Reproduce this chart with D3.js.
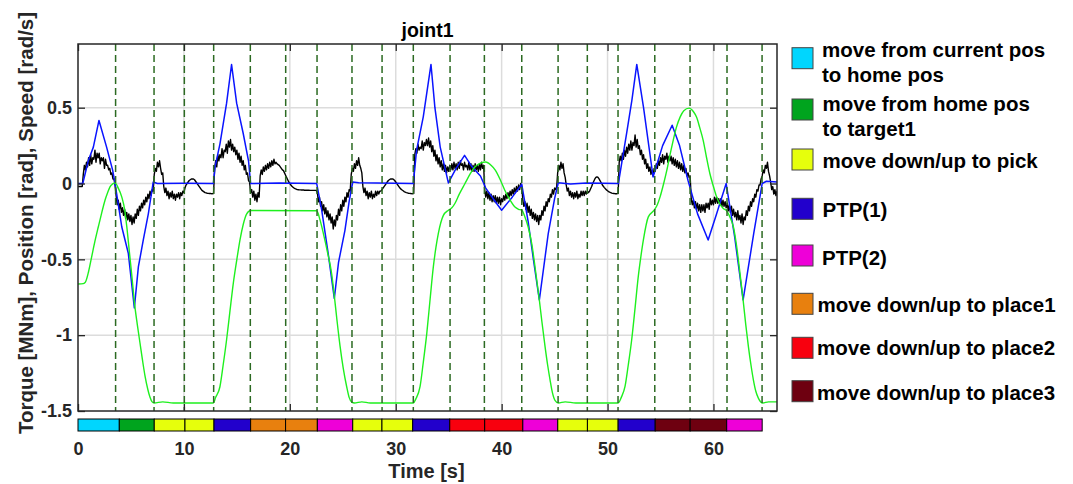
<!DOCTYPE html>
<html>
<head>
<meta charset="utf-8">
<title>joint1</title>
<script src="https://cdn.jsdelivr.net/npm/d3@7"></script>
<style>
  body { margin: 0; background: #fff; }
  svg { display: block; font-family: "Liberation Sans", Arial, Helvetica, sans-serif; font-weight: bold; }
</style>
</head>
<body>
<svg id="chart" width="1073" height="484"></svg>
<script>
// ---------------- data ----------------
const chartTitle = "joint1";
const xLabel = "Time [s]";
const yLabel = "Torque [MNm], Position [rad], Speed [rad/s]";

const xTicks = [0, 10, 20, 30, 40, 50, 60];
const yTicks = [-1.5, -1, -0.5, 0, 0.5];
const xDomain = [0, 66];
const yDomain = [-1.5, 0.92];

// torque, sampled every 0.1 s from t = 0 to t = 66 (one row per second)
const torqueStep = 0.1;
const torque = [
  -0.02,-0.02,-0.02,-0.02,-0.02,0.06,0.12,0.09,0.14,0.11,
  0.17,0.12,0.19,0.13,0.17,0.16,0.22,0.14,0.20,0.17,
  0.20,0.13,0.17,0.15,0.17,0.10,0.16,0.12,0.12,0.09,
  0.10,0.06,0.07,0.03,0.03,-0.01,-0.08,-0.14,-0.11,-0.17,
  -0.13,-0.19,-0.16,-0.21,-0.17,-0.23,-0.19,-0.24,-0.20,-0.25,
  -0.21,-0.27,-0.22,-0.26,-0.20,-0.23,-0.17,-0.21,-0.15,-0.18,
  -0.13,-0.16,-0.11,-0.14,-0.09,-0.12,-0.07,-0.10,-0.05,-0.08,
  -0.04,-0.05,0.06,0.10,0.08,0.14,0.11,0.15,0.10,0.06,
  0.07,-0.02,-0.06,-0.03,-0.08,-0.05,-0.10,-0.06,-0.09,-0.05,
  -0.10,-0.07,-0.11,-0.07,-0.09,-0.06,-0.10,-0.06,-0.08,-0.05,
  -0.06,-0.03,-0.01,0.0,0.01,0.02,0.025,0.03,0.03,0.03,
  0.025,0.015,0.005,-0.005,-0.015,-0.025,-0.035,-0.045,-0.05,-0.055,
  -0.06,-0.062,-0.064,-0.065,-0.066,-0.066,-0.067,-0.067,-0.066,0.10,
  0.15,0.11,0.19,0.15,0.19,0.17,0.23,0.17,0.22,0.21,
  0.26,0.20,0.28,0.24,0.29,0.22,0.26,0.21,0.24,0.19,
  0.22,0.16,0.20,0.14,0.18,0.12,0.15,0.09,0.12,0.06,
  0.07,0.02,0.01,-0.06,-0.04,-0.09,-0.05,-0.11,-0.07,-0.12,
  -0.06,-0.09,0.05,0.09,0.06,0.11,0.08,0.12,0.09,0.13,
  0.10,0.14,0.11,0.15,0.12,0.16,0.13,0.14,0.13,0.125,
  0.12,0.11,0.10,0.09,0.085,0.07,0.055,0.04,0.025,0.01,
  0.0,-0.01,-0.018,-0.024,-0.03,-0.034,-0.037,-0.04,-0.041,-0.042,
  -0.042,-0.043,-0.043,-0.043,-0.044,-0.044,-0.044,-0.044,-0.044,-0.045,
  -0.045,-0.045,-0.045,-0.045,-0.045,-0.045,-0.06,-0.12,-0.09,-0.15,
  -0.12,-0.18,-0.14,-0.20,-0.16,-0.22,-0.18,-0.24,-0.20,-0.26,
  -0.22,-0.30,-0.24,-0.28,-0.21,-0.24,-0.17,-0.21,-0.14,-0.18,
  -0.11,-0.15,-0.09,-0.12,-0.06,-0.09,-0.04,-0.05,0.06,0.10,
  0.08,0.13,0.10,0.15,0.12,0.17,0.12,0.10,0.07,-0.02,
  -0.06,-0.03,-0.08,-0.05,-0.10,-0.06,-0.09,-0.05,-0.10,-0.07,
  -0.09,-0.05,-0.08,-0.05,-0.07,-0.05,-0.05,-0.04,-0.03,-0.02,
  -0.01,0.0,0.01,0.02,0.025,0.03,0.03,0.03,0.027,0.02,
  0.01,0.0,-0.01,-0.02,-0.03,-0.037,-0.043,-0.048,-0.053,-0.057,
  -0.06,-0.062,-0.064,-0.065,-0.066,-0.067,-0.067,-0.066,0.19,0.23,
  0.20,0.26,0.22,0.24,0.23,0.28,0.22,0.27,0.25,0.29,
  0.25,0.30,0.24,0.28,0.21,0.25,0.18,0.22,0.15,0.19,
  0.13,0.17,0.11,0.15,0.09,0.13,0.08,0.12,0.07,0.11,
  0.08,0.12,0.09,0.13,0.09,0.14,0.10,0.13,0.09,0.14,
  0.10,0.15,0.12,0.13,0.09,0.14,0.11,0.12,0.09,0.14,
  0.09,0.13,0.08,0.12,0.08,0.13,0.09,0.12,0.08,0.13,
  0.09,0.14,0.10,0.12,-0.04,-0.09,-0.05,-0.10,-0.06,-0.11,
  -0.07,-0.12,-0.08,-0.12,-0.08,-0.13,-0.09,-0.13,-0.09,-0.14,
  -0.10,-0.12,-0.08,-0.11,-0.07,-0.10,-0.06,-0.09,-0.05,-0.08,
  -0.04,-0.07,-0.03,-0.06,-0.02,-0.05,-0.01,-0.04,0.0,-0.02,
  -0.11,-0.15,-0.12,-0.17,-0.13,-0.19,-0.15,-0.21,-0.17,-0.23,
  -0.19,-0.24,-0.20,-0.25,-0.21,-0.27,-0.21,-0.24,-0.18,-0.21,
  -0.15,-0.18,-0.12,-0.15,-0.10,-0.12,-0.07,-0.09,-0.04,-0.07,
  -0.03,-0.04,-0.02,0.08,0.12,0.09,0.14,0.10,0.13,0.07,
  0.04,-0.01,-0.05,-0.03,-0.08,-0.05,-0.09,-0.06,-0.10,-0.06,
  -0.09,-0.05,-0.10,-0.07,-0.09,-0.05,-0.08,-0.05,-0.08,-0.05,
  -0.07,-0.05,-0.06,-0.05,-0.035,-0.02,0.0,0.015,0.03,0.04,
  0.044,0.04,0.03,0.018,0.005,-0.008,-0.018,-0.027,-0.035,-0.042,
  -0.048,-0.053,-0.057,-0.06,-0.063,-0.065,-0.066,-0.067,-0.067,-0.067,
  -0.066,0.14,0.18,0.15,0.20,0.16,0.22,0.18,0.24,0.20,
  0.26,0.22,0.28,0.22,0.27,0.25,0.32,0.24,0.29,0.23,
  0.25,0.19,0.22,0.16,0.19,0.13,0.16,0.10,0.13,0.08,
  0.11,0.06,0.09,0.05,0.10,0.08,0.13,0.10,0.15,0.12,
  0.17,0.14,0.19,0.13,0.18,0.16,0.20,0.14,0.18,0.15,
  0.18,0.13,0.17,0.12,0.16,0.11,0.15,0.10,0.14,0.09,
  0.13,0.08,0.12,0.07,0.10,0.05,0.07,0.04,0.05,-0.10,
  -0.14,-0.11,-0.16,-0.12,-0.17,-0.13,-0.18,-0.14,-0.19,-0.14,
  -0.18,-0.14,-0.19,-0.13,-0.16,-0.13,-0.17,-0.10,-0.14,-0.11,
  -0.14,-0.09,-0.13,-0.09,-0.13,-0.10,-0.14,-0.10,-0.15,-0.11,
  -0.15,-0.12,-0.16,-0.13,-0.18,-0.14,-0.19,-0.15,-0.21,-0.17,
  -0.22,-0.19,-0.24,-0.18,-0.24,-0.21,-0.26,-0.20,-0.27,-0.22,
  -0.24,-0.18,-0.21,-0.15,-0.18,-0.12,-0.15,-0.10,-0.12,-0.07,
  -0.09,-0.04,-0.05,-0.01,-0.01,0.03,0.05,0.09,0.07,0.12,
  0.10,0.14,0.08,0.05,0.01,-0.04,-0.02,-0.07,-0.04,-0.08,
  -0.05
];

// joint speed [time s, rad/s]
const speed = [
  [0,0],[0.45,0],[0.97,0.15],[1.45,0.24],[1.98,0.416],[2.7,0.24],[3.27,0.088],[3.5,0],
  [4.13,-0.285],[4.75,-0.46],[5.32,-0.82],[5.7,-0.55],[6.17,-0.37],[6.64,-0.2],[7.1,0.01],
  [7.5,0.0],[10,0.002],[12.78,0],[12.94,0.11],[13.4,0.26],[14.03,0.53],[14.5,0.785],
  [14.98,0.53],[15.6,0.33],[16.1,0.15],[16.3,0],[19,0.003],[22.54,0],
  [23.0,-0.17],[23.6,-0.45],[24.2,-0.757],[24.6,-0.52],[25.2,-0.31],[25.6,-0.12],[25.94,0.01],
  [26.5,0.005],[31.66,0],[31.97,0.22],[32.6,0.44],[33.33,0.785],[33.7,0.5],[34.2,0.24],
  [34.97,0.004],[35.7,0.1],[36.5,0.186],[37.2,0.11],[38.0,0.05],[38.5,-0.03],[39.2,-0.1],
  [40.0,-0.176],[41.0,-0.09],[41.9,-0.005],[42.5,-0.25],[43.0,-0.5],[43.56,-0.768],
  [44.4,-0.33],[45.0,-0.1],[45.35,0.005],[46.5,-0.003],[48,0.003],[51.02,0],[51.8,0.33],
  [52.3,0.55],[52.76,0.785],[53.4,0.5],[54.3,0.043],[55.2,0.25],[56.1,0.384],[56.8,0.25],
  [57.6,0.02],[58.5,-0.2],[59.5,-0.373],[60.3,-0.2],[61.2,0.0],[62.0,-0.35],[62.8,-0.768],
  [63.8,-0.33],[64.6,0.0],[65.0,0.015],[66,0.01]
];

// joint position [time s, rad]
const position = [
  [0,-0.6625],[0.5,-0.66],[0.7,-0.65],[1.0,-0.58],[1.29,-0.483],[1.6,-0.38],[1.92,-0.285],
  [2.25,-0.19],[2.55,-0.11],[2.8,-0.06],[3.02,-0.022],[3.25,-0.004],[3.5,0.004],[3.8,-0.03],
  [4.13,-0.088],[4.4,-0.17],[4.6,-0.28],[4.85,-0.45],[5.1,-0.62],[5.32,-0.78],[5.6,-0.93],
  [5.85,-1.05],[6.1,-1.17],[6.33,-1.27],[6.6,-1.36],[6.8,-1.41],[7.0,-1.44],[7.18,-1.447],
  [8.0,-1.44],[9.0,-1.447],[12.78,-1.447],[13.0,-1.41],[13.4,-1.34],[13.7,-1.2],[14.03,-1.03],
  [14.35,-0.84],[14.66,-0.66],[15.0,-0.5],[15.3,-0.37],[15.6,-0.27],[15.93,-0.2],[16.3,-0.178],
  [22.54,-0.18],[22.85,-0.24],[23.17,-0.33],[23.55,-0.45],[23.96,-0.6],[24.2,-0.74],
  [24.45,-0.9],[24.74,-1.07],[25.05,-1.22],[25.37,-1.34],[25.6,-1.41],[25.84,-1.44],
  [26.1,-1.447],[26.8,-1.44],[27.6,-1.447],[31.66,-1.447],[31.9,-1.42],[32.3,-1.338],
  [32.6,-1.18],[32.93,-0.99],[33.25,-0.76],[33.55,-0.55],[33.8,-0.42],[34.02,-0.33],
  [34.5,-0.21],[34.97,-0.176],[35.3,-0.16],[35.6,-0.13],[36.0,-0.07],[36.54,0.0],[37.0,0.06],
  [37.49,0.11],[38.0,0.135],[38.5,0.142],[39.0,0.12],[39.4,0.088],[39.9,0.02],[40.3,-0.044],
  [40.8,-0.11],[41.26,-0.155],[41.6,-0.17],[41.9,-0.176],[42.2,-0.22],[42.5,-0.285],
  [42.85,-0.4],[43.15,-0.549],[43.56,-0.768],[43.8,-0.91],[44.1,-1.075],[44.35,-1.2],
  [44.57,-1.294],[44.8,-1.38],[45.04,-1.43],[45.35,-1.447],[46.0,-1.44],[47.0,-1.447],
  [51.0,-1.447],[51.3,-1.41],[51.65,-1.338],[51.95,-1.2],[52.28,-1.03],[52.6,-0.82],
  [52.9,-0.614],[53.15,-0.48],[53.38,-0.373],[53.85,-0.22],[54.4,-0.176],[54.7,-0.14],
  [54.96,-0.088],[55.3,0.0],[55.6,0.088],[55.9,0.19],[56.2,0.285],[56.5,0.37],[56.85,0.438],
  [57.2,0.48],[57.7,0.497],[58.1,0.475],[58.4,0.438],[58.7,0.37],[59.03,0.285],[59.35,0.17],
  [59.66,0.066],[60.0,-0.02],[60.3,-0.088],[60.6,-0.135],[60.93,-0.164],[61.25,-0.18],
  [61.55,-0.22],[61.88,-0.285],[62.2,-0.42],[62.5,-0.59],[62.8,-0.768],[63.05,-0.93],
  [63.3,-1.075],[63.55,-1.2],[63.77,-1.294],[64.0,-1.37],[64.24,-1.415],[64.65,-1.447],
  [65.2,-1.44],[66,-1.44]
];

// phase switching instants (dashed markers), s
const switchTimes = [3.55, 7.18, 10.04, 12.81, 16.27, 19.61, 22.57, 25.87, 28.71, 31.66,
  35.13, 38.37, 41.9, 45.33, 48.09, 50.99, 54.46, 57.79, 61.28, 64.59];

// motion phases shown in the strip under the plot
const phaseEdges = [0, 3.9, 7.2, 10.1, 12.84, 16.3, 19.6, 22.6, 25.94, 28.7, 31.6,
  35.1, 38.4, 42.0, 45.3, 48.1, 51.0, 54.5, 57.8, 61.25, 64.6];
const phaseKinds = ["home", "target1", "pick", "pick", "ptp1", "place1", "place1", "ptp2",
  "pick", "pick", "ptp1", "place2", "place2", "ptp2", "pick", "pick", "ptp1",
  "place3", "place3", "ptp2"];

const phaseTypes = ["home", "target1", "pick", "ptp1", "ptp2", "place1", "place2", "place3"];
const phaseLabels = [
  ["move from current pos", "to home pos"],
  ["move from home pos", "to target1"],
  ["move down/up to pick"],
  ["PTP(1)"],
  ["PTP(2)"],
  ["move down/up to place1"],
  ["move down/up to place2"],
  ["move down/up to place3"]
];
const phaseColors = ["#00d6fe", "#00a41e", "#e6ff0c", "#2200cc", "#ee00d8", "#e8800e", "#f8000e", "#6e0010"];

// ---------------- layout ----------------
const plot = { left: 78, right: 777, top: 44, bottom: 411 };
const strip = { top: 419, height: 12 };
const legendLayout = {
  boxX: 792, box: 21,
  boxTops: [47.7, 99, 149, 198.3, 245, 293.3, 337.3, 380.7],
  textX: [822, 822.5, 822.5, 822.5, 822, 817.5, 817, 817],
  baselines: [[57, 82], [111, 136], [167.5], [216.5], [265], [311.5], [355], [400]]
};
const ink = "#262626";

const svg = d3.select("#chart");
const x = d3.scaleLinear().domain(xDomain).range([plot.left, plot.right]);
const y = d3.scaleLinear().domain(yDomain).range([plot.bottom, plot.top]);
const colorOf = d3.scaleOrdinal().domain(phaseTypes).range(phaseColors);

svg.append("defs").append("clipPath").attr("id", "plotClip")
  .append("rect")
  .attr("x", plot.left).attr("y", plot.top)
  .attr("width", plot.right - plot.left).attr("height", plot.bottom - plot.top);

// grid
const grid = svg.append("g").attr("stroke", "#dcdcdc").attr("stroke-width", 1.5);
grid.selectAll(".gx").data(xTicks.filter(d => d > xDomain[0])).join("line")
  .attr("x1", d => x(d)).attr("x2", d => x(d))
  .attr("y1", plot.top).attr("y2", plot.bottom);
grid.selectAll(".gy").data(yTicks.filter(d => d > yDomain[0])).join("line")
  .attr("x1", plot.left).attr("x2", plot.right)
  .attr("y1", d => y(d)).attr("y2", d => y(d));

// curves
const series = svg.append("g").attr("clip-path", "url(#plotClip)").attr("fill", "none");
const torquePts = torque.map((v, i) => [i * torqueStep, v]);
const lineLin = d3.line().x(d => x(d[0])).y(d => y(d[1]));
const lineSmooth = d3.line().x(d => x(d[0])).y(d => y(d[1])).curve(d3.curveMonotoneX);

series.append("path").datum(torquePts).attr("d", lineLin)
  .attr("stroke", "#000").attr("stroke-width", 1.4).attr("stroke-linejoin", "round");
series.append("path").datum(speed).attr("d", lineLin)
  .attr("stroke", "#0a14ff").attr("stroke-width", 1.5).attr("stroke-linejoin", "round");
series.append("path").datum(position).attr("d", lineSmooth)
  .attr("stroke", "#1ef01e").attr("stroke-width", 1.4);

// phase switch markers
svg.append("g").selectAll("line").data(switchTimes).join("line")
  .attr("x1", d => x(d)).attr("x2", d => x(d))
  .attr("y1", plot.top).attr("y2", plot.bottom)
  .attr("stroke", "#2c6a22").attr("stroke-width", 1.5)
  .attr("stroke-dasharray", "7,4");

// axes box and ticks
const fmt = d => String(d);
const ax = svg.append("g").attr("font-family", "Liberation Sans, Arial, sans-serif");
ax.append("g").attr("transform", `translate(0,${plot.bottom})`)
  .call(d3.axisBottom(x).tickValues(xTicks).tickSize(-7).tickPadding(31.5).tickFormat(fmt));
ax.append("g").attr("transform", `translate(${plot.left},0)`)
  .call(d3.axisLeft(y).tickValues(yTicks).tickSize(-7).tickPadding(6).tickFormat(fmt));
ax.append("g").attr("transform", `translate(0,${plot.top})`)
  .call(d3.axisTop(x).tickValues(xTicks).tickSize(-7).tickFormat(""));
ax.append("g").attr("transform", `translate(${plot.right},0)`)
  .call(d3.axisRight(y).tickValues(yTicks).tickSize(-7).tickFormat(""));
ax.selectAll(".domain").remove();
ax.selectAll(".tick line").attr("stroke", ink).attr("stroke-width", 1.3);
ax.selectAll(".tick text").attr("fill", ink).attr("font-size", 18).attr("font-weight", "bold");

svg.append("rect")
  .attr("x", plot.left).attr("y", plot.top)
  .attr("width", plot.right - plot.left).attr("height", plot.bottom - plot.top)
  .attr("fill", "none").attr("stroke", ink).attr("stroke-width", 1.5);

// phase strip
svg.append("g").selectAll("rect").data(phaseKinds).join("rect")
  .attr("x", (d, i) => x(phaseEdges[i]))
  .attr("width", (d, i) => x(phaseEdges[i + 1]) - x(phaseEdges[i]))
  .attr("y", strip.top).attr("height", strip.height)
  .attr("fill", d => colorOf(d))
  .attr("stroke", "#000").attr("stroke-width", 1);

// titles
svg.append("text").attr("x", (plot.left + plot.right) / 2).attr("y", 37)
  .attr("text-anchor", "middle").attr("font-size", 19.5).attr("fill", "#000")
  .text(chartTitle);
svg.append("text").attr("x", (plot.left + plot.right) / 2 - 1).attr("y", 478)
  .attr("text-anchor", "middle").attr("font-size", 20).attr("fill", ink)
  .text(xLabel);
svg.append("text")
  .attr("transform", `translate(33,223) rotate(-90)`)
  .attr("text-anchor", "middle").attr("font-size", 20.5).attr("fill", ink)
  .text(yLabel);

// legend
const legend = svg.append("g");
phaseTypes.forEach((kind, i) => {
  legend.append("rect")
    .attr("x", legendLayout.boxX).attr("y", legendLayout.boxTops[i])
    .attr("width", legendLayout.box).attr("height", legendLayout.box)
    .attr("fill", colorOf(kind)).attr("stroke", "#444").attr("stroke-width", 1);
  phaseLabels[i].forEach((line, j) => {
    legend.append("text")
      .attr("x", legendLayout.textX[i]).attr("y", legendLayout.baselines[i][j])
      .attr("font-size", 20.5).attr("fill", "#000")
      .text(line);
  });
});
</script>
</body>
</html>
